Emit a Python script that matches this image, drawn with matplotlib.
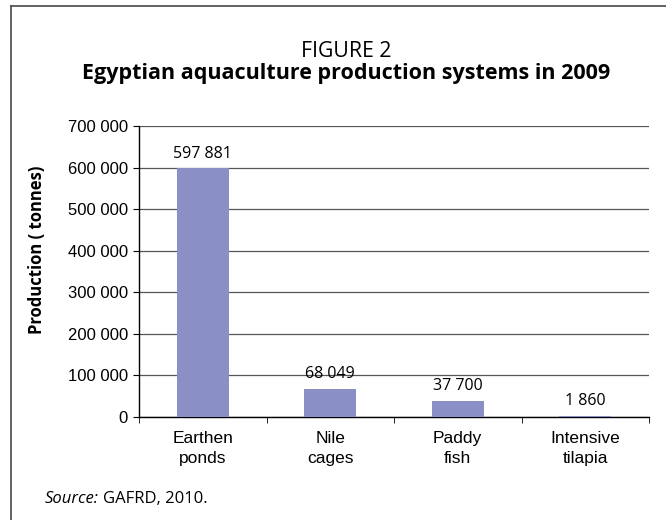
import matplotlib
matplotlib.use("Agg")
import matplotlib.pyplot as plt
from matplotlib.lines import Line2D

# dados
sistemas = ["Earthen\nponds", "Nile\ncages", "Paddy\nfish", "Intensive\ntilapia"]
producao = [597881, 68049, 37700, 1860]
yticks = [0, 100000, 200000, 300000, 400000, 500000, 600000, 700000]

cor_barra = "#8A8FC6"
fonte_titulo = "Open Sans"
fonte_eixo = "Liberation Sans"

fig = plt.figure(figsize=(6.66, 5.2), dpi=100)
ax = fig.add_axes([139 / 666, 103 / 520, 510 / 666, 291 / 520])

x = list(range(len(sistemas)))
ax.bar(x, producao, width=0.41, color=cor_barra, zorder=3)

# rótulos das barras
for xi, v in zip(x, producao):
    ax.annotate(f"{v:,}".replace(",", " "), (xi, v), xytext=(0, 5),
                textcoords="offset points", ha="center", va="bottom",
                fontsize=11.5, family=fonte_titulo)

ax.set_xlim(-0.5, len(sistemas) - 0.5)
ax.set_ylim(0, 700000)
ax.set_yticks(yticks)
ax.set_yticklabels([f"{v:,}".replace(",", " ") for v in yticks],
                   fontsize=12, family=fonte_eixo)
ax.set_xticks(x)
ax.set_xticklabels(sistemas, fontsize=12.5, family=fonte_eixo, linespacing=1.4)
ax.tick_params(axis="x", length=0, pad=10)
ax.set_xticks([i - 0.5 for i in range(len(sistemas) + 1)], minor=True)
ax.tick_params(axis="x", which="minor", length=4, direction="out", color="black")
ax.tick_params(axis="y", length=4, direction="out", pad=4)

ax.grid(True, axis="y", color="#555555", linewidth=0.9, zorder=0)
ax.set_axisbelow(True)
for lado in ["top", "right"]:
    ax.spines[lado].set_visible(False)
ax.spines["left"].set_linewidth(1.0)
ax.spines["bottom"].set_linewidth(1.0)

# títulos
fig.text(346 / 666, 1 - 57 / 520, "FIGURE 2", ha="center", va="baseline",
         fontsize=15.3, family=fonte_titulo)
fig.text(346 / 666, 1 - 79 / 520, "Egyptian aquaculture production systems in 2009",
         ha="center", va="baseline", fontsize=15.5, fontweight="bold", family=fonte_titulo)
fig.text(37 / 666, 1 - 250 / 520, "Production ( tonnes)", rotation=90,
         ha="center", va="center", fontsize=12, fontweight="bold", family=fonte_titulo)

# fonte
t1 = fig.text(45 / 666, 1 - 503 / 520, "Source:", ha="left", va="baseline",
              fontsize=12, style="italic", family=fonte_titulo)
fig.canvas.draw()
bb = t1.get_window_extent()
fig.text((bb.x1 + 4) / 666, 1 - 503 / 520, "GAFRD, 2010.", ha="left", va="baseline",
         fontsize=12, family=fonte_titulo)

# moldura
fig.add_artist(Line2D([11 / 666, 1], [1 - 6 / 520, 1 - 6 / 520], color="#555555", lw=1.3))
fig.add_artist(Line2D([11 / 666, 11 / 666], [0, 1 - 6 / 520], color="#555555", lw=1.3))

fig.savefig("out.png", dpi=100)
